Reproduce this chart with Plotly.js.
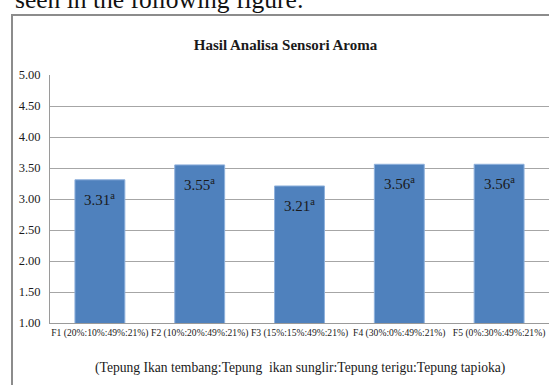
<!DOCTYPE html>
<html>
<head>
<meta charset="utf-8">
<script src="https://cdn.plot.ly/plotly-3.0.1.min.js"></script>
<style>html,body{margin:0;padding:0;background:#fff;}#chart{width:549px;height:385px;}</style>
</head>
<body>
<div id="chart"></div>
<script>
const categories = ["F1 (20%:10%:49%:21%)", "F2 (10%:20%:49%:21%)", "F3 (15%:15%:49%:21%)", "F4 (30%:0%:49%:21%)", "F5 (0%:30%:49%:21%)"];
const values = [3.31, 3.55, 3.21, 3.56, 3.56];
const letters = ["a", "a", "a", "a", "a"];
const yTicks = [1.0, 1.5, 2.0, 2.5, 3.0, 3.5, 4.0, 4.5, 5.0];

const serif = "'Liberation Serif', 'Times New Roman', serif";
const textColor = "#1a1a1a";

const trace = {
  type: "bar",
  x: categories,
  y: values,
  marker: {color: "#4F81BD", line: {color: "#8FB1DC", width: 1}},
  hoverinfo: "skip"
};

const labelAnnotations = categories.map((c, i) => ({
  x: c, y: values[i], xref: "x", yref: "y",
  text: values[i].toFixed(2) + "<sup>" + letters[i] + "</sup>",
  showarrow: false, yanchor: "top", yshift: -8,
  font: {family: serif, size: 15, color: textColor}
}));

const layout = {
  width: 549, height: 385,
  margin: {l: 50, r: 0, t: 75, b: 62, pad: 0},
  paper_bgcolor: "#ffffff", plot_bgcolor: "#ffffff",
  showlegend: false,
  bargap: 0.5,
  title: {
    text: "<b>Hasil Analisa Sensori Aroma</b>",
    xref: "container", yref: "container", x: 0.52, y: 1 - 45/385,
    xanchor: "center", yanchor: "middle",
    font: {family: serif, size: 15, color: textColor}
  },
  xaxis: {
    type: "category",
    showgrid: false,
    showline: true, linecolor: "#9a9a9a", linewidth: 1,
    ticks: "",
    tickfont: {family: serif, size: 9.6, color: textColor},
    fixedrange: true
  },
  yaxis: {
    range: [1, 5],
    tickvals: yTicks,
    tickformat: ".2f",
    showgrid: true, gridcolor: "#a6a6a6", gridwidth: 1,
    showline: true, linecolor: "#9a9a9a", linewidth: 1,
    zeroline: false,
    ticks: "",
    ticklabelstandoff: 6,
    tickfont: {family: serif, size: 12.5, color: textColor},
    fixedrange: true
  },
  annotations: labelAnnotations.concat([
    {
      xref: "paper", yref: "paper",
      x: (300 - 50) / 499, y: (323 - 368) / 248,
      xanchor: "center", yanchor: "middle",
      text: "(Tepung Ikan tembang:Tepung\u00a0 ikan sunglir:Tepung terigu:Tepung tapioka)",
      showarrow: false,
      font: {family: serif, size: 13.6, color: textColor}
    },
    {
      xref: "paper", yref: "paper",
      x: (13 - 50) / 499, y: (323 + 1) / 248,
      xanchor: "left", yanchor: "middle",
      text: "seen in the following figure:",
      showarrow: false,
      font: {family: serif, size: 25.5, color: "#111"}
    }
  ]),
  shapes: [
    {
      type: "rect", xref: "paper", yref: "paper",
      x0: (12 - 50) / 499, x1: (560 - 50) / 499,
      y0: (323 - 400) / 248, y1: (323 - 15) / 248,
      line: {color: "#8c8c8c", width: 2}, fillcolor: "rgba(0,0,0,0)",
      layer: "below"
    }
  ]
};

Plotly.newPlot("chart", [trace], layout, {displayModeBar: false, staticPlot: true});
</script>
</body>
</html>
